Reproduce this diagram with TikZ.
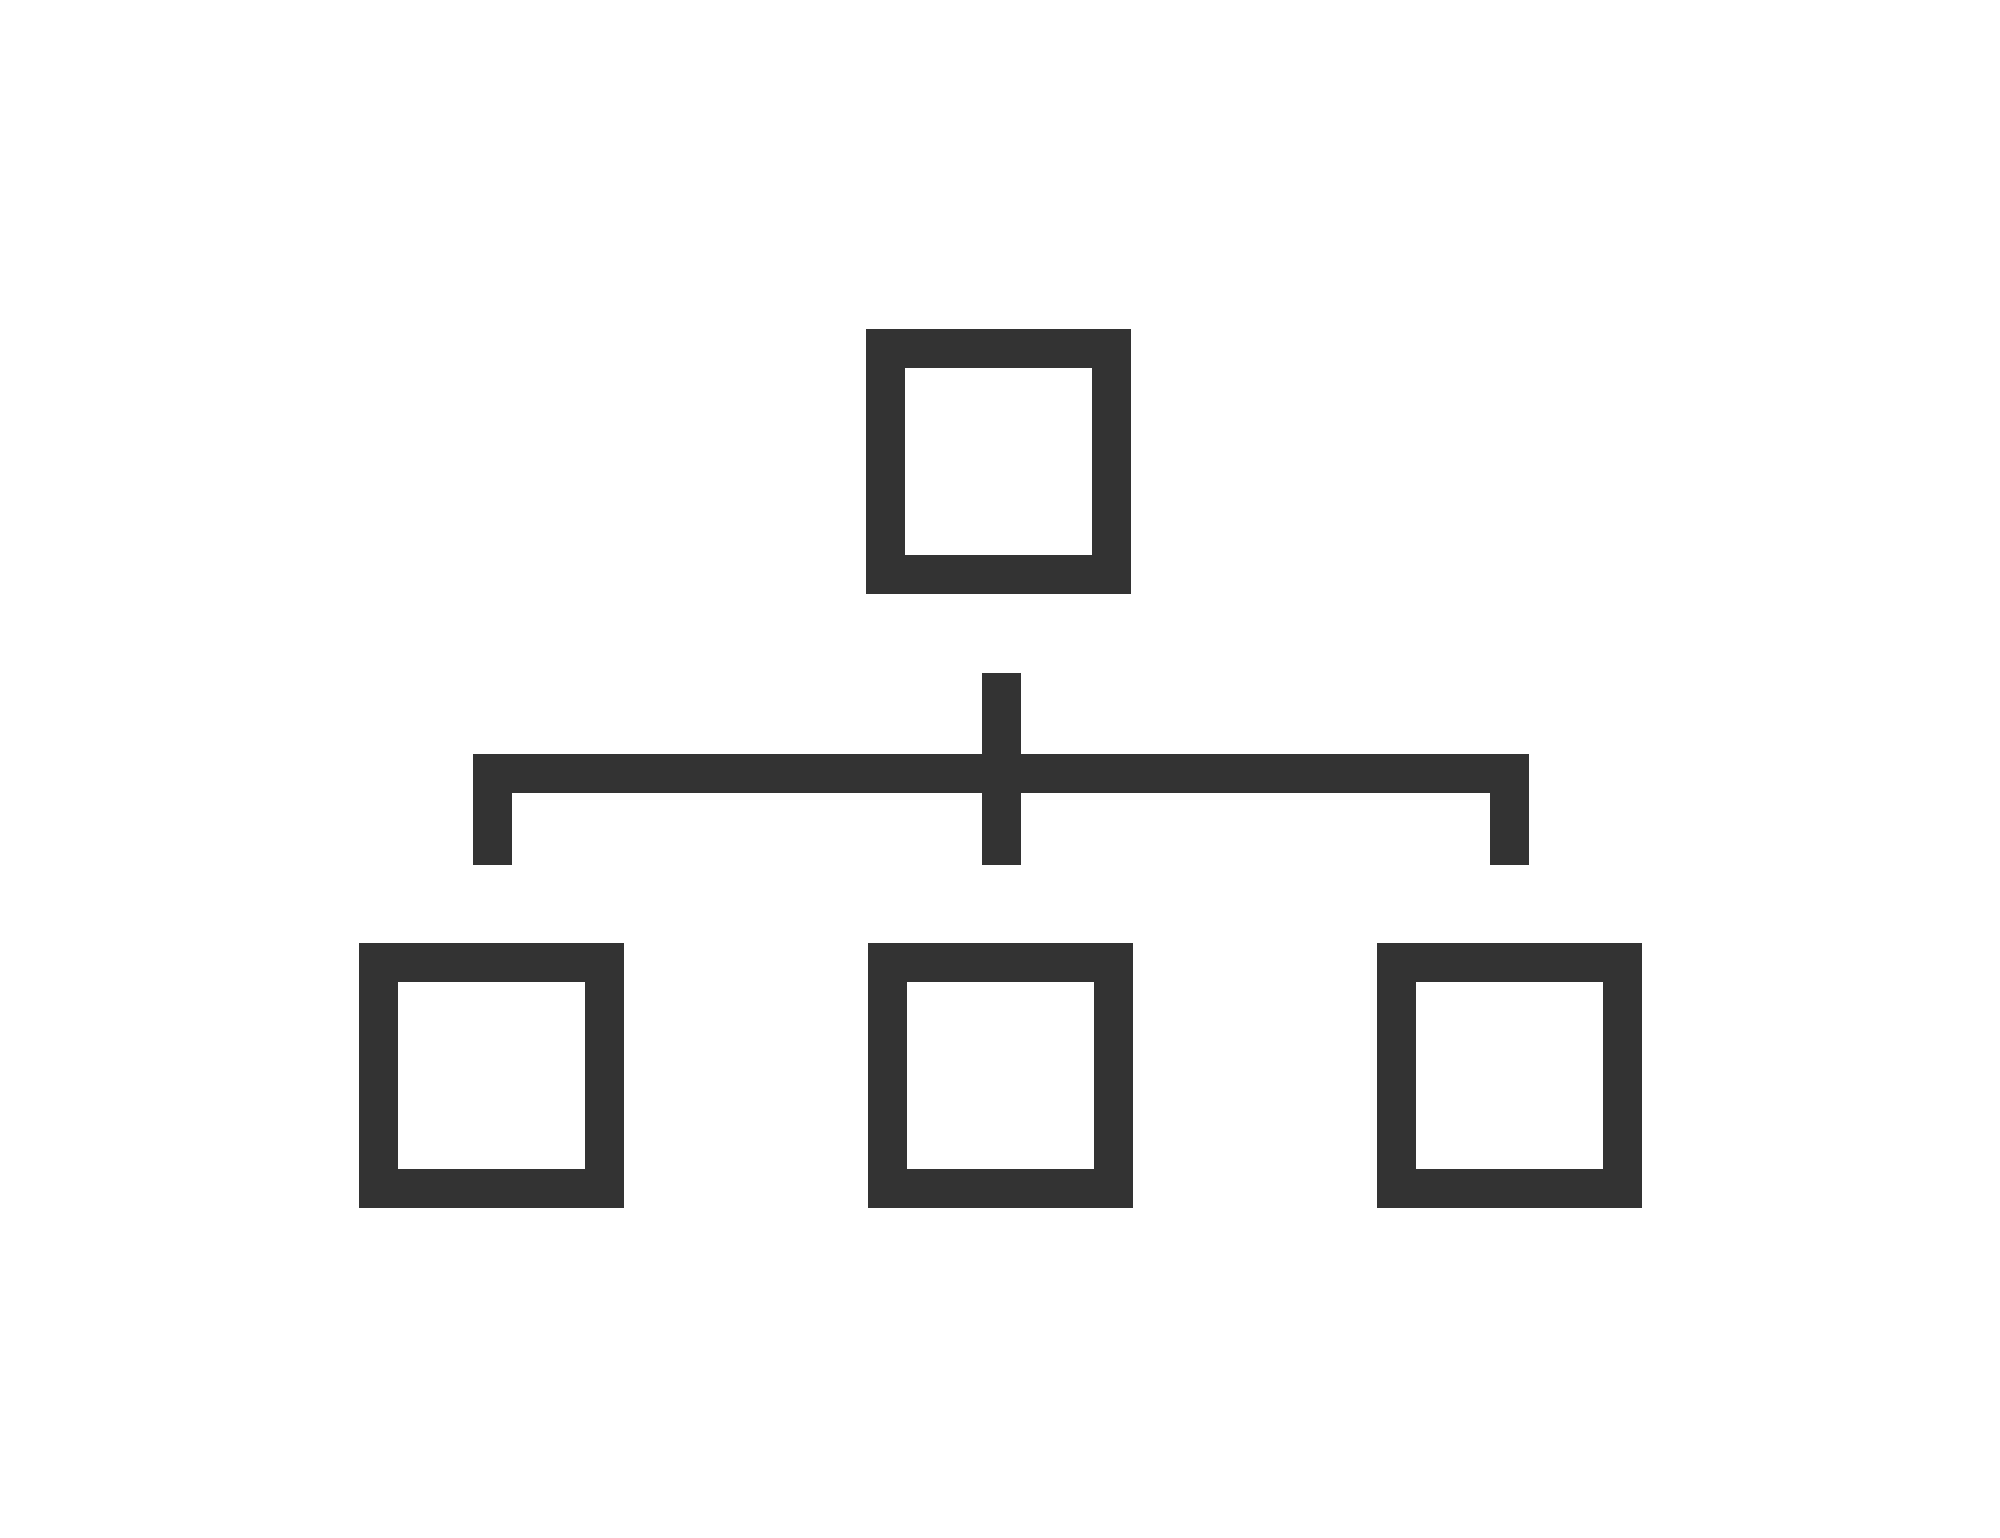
\documentclass[tikz,border=0pt]{standalone}
\begin{document}
\begin{tikzpicture}[x=0.1mm,y=-0.1mm,
  icon/.style={draw=iconc,line width=3.9mm},
  unitbox/.style={icon,rectangle,minimum size=22.6mm,inner sep=0pt,fill=white},
  link/.style={icon,line cap=butt,line join=miter}]
\definecolor{iconc}{HTML}{333333}
\fill[white] (0,0) rectangle (2000,1538);
\useasboundingbox (0,0) rectangle (2000,1538);
\node[unitbox] (top) at (998.5,462) {};
\node[unitbox] (left) at (491.5,1076) {};
\node[unitbox] (mid) at (1000,1076) {};
\node[unitbox] (right) at (1509,1076) {};
\coordinate (stemtop) at (1001,673);
\coordinate (stembot) at (1001,865);
\coordinate (lleg) at (492.5,865);
\coordinate (rleg) at (1509.5,865);
\coordinate (lcorner) at (492.5,773.5);
\coordinate (rcorner) at (1509.5,773.5);
\draw[link] (stemtop) -- (stembot);
\draw[link] (lleg) -- (lcorner) -- (rcorner) -- (rleg);
\end{tikzpicture}
\end{document}
